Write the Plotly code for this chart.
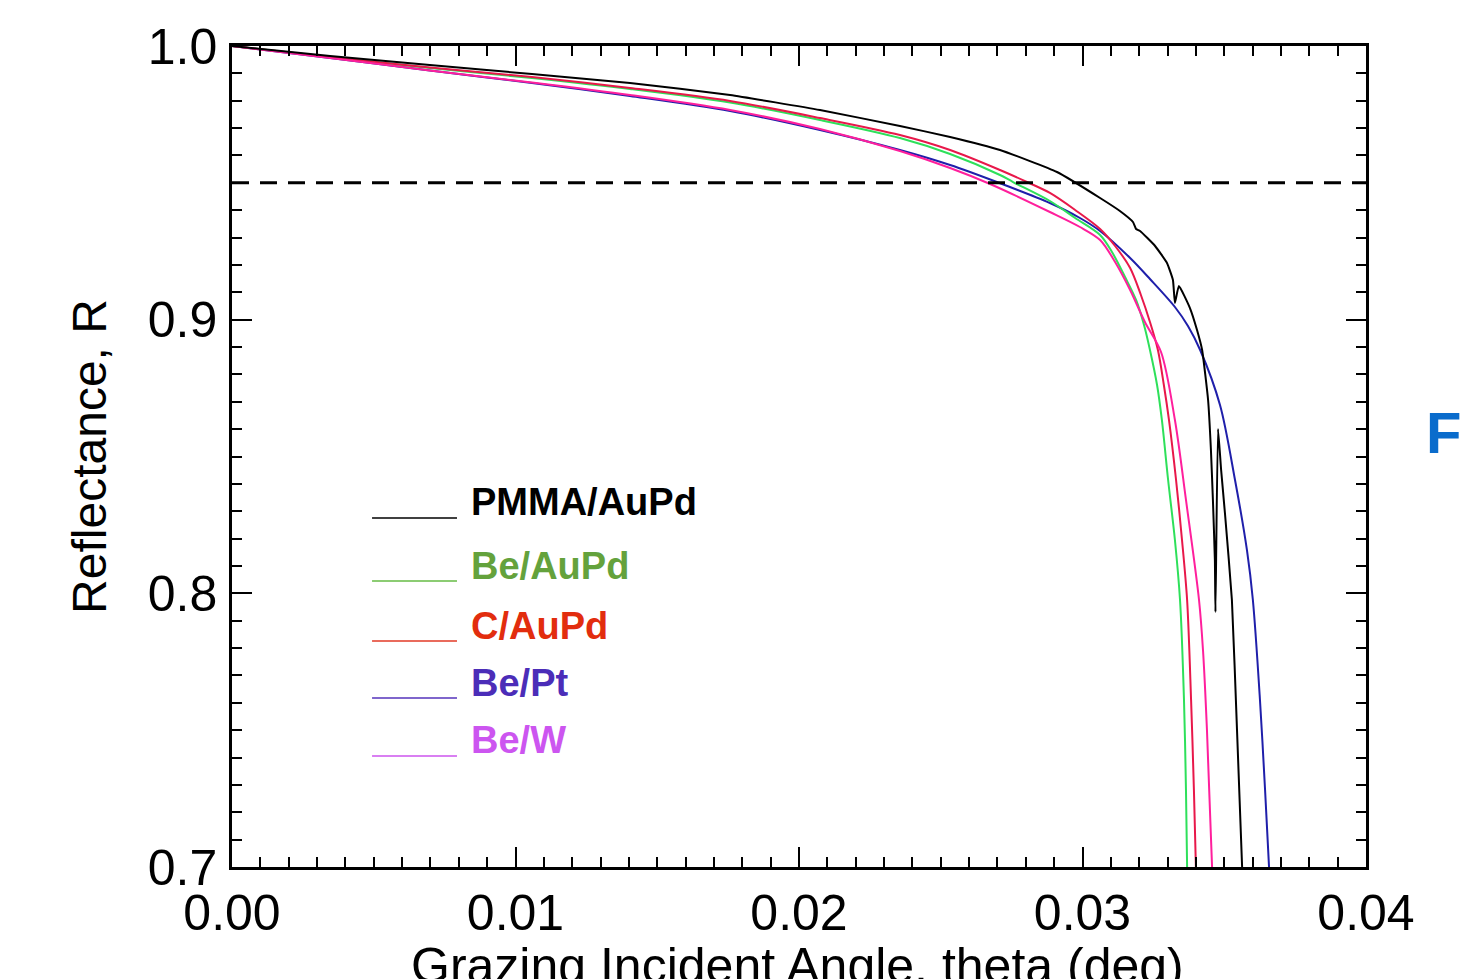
import numpy as np
import plotly.graph_objects as go

# ---------------- data ----------------
pmma_x = [0.0, 0.00346, 0.00698, 0.01058, 0.01404, 0.01757, 0.02074, 0.02356, 0.02533, 0.02709,
          0.02910, 0.03062, 0.03132, 0.03178, 0.03189, 0.03203, 0.03256, 0.03298, 0.03319, 0.03326,
          0.03340, 0.03379, 0.03404, 0.03422, 0.03443, 0.03453, 0.03460, 0.03467, 0.03469, 0.03478,
          0.03489, 0.03503, 0.03527, 0.03545, 0.03563]
pmma_r = [1.0, 0.99635, 0.99306, 0.98977, 0.98648, 0.98210, 0.97661, 0.97077, 0.96675, 0.96200,
          0.95396, 0.94446, 0.93971, 0.93569, 0.93313, 0.93240, 0.92692, 0.92071, 0.91449, 0.90609,
          0.91230, 0.90426, 0.89623, 0.88892, 0.87065, 0.85238, 0.83411, 0.81219, 0.79319, 0.86005,
          0.84507, 0.82863, 0.79757, 0.75007, 0.70]

be_aupd_x = [0.0, 0.00346, 0.00698, 0.01058, 0.01404, 0.01757, 0.02074, 0.02356, 0.02533, 0.02709,
             0.02755, 0.02885, 0.02974, 0.03062, 0.03104, 0.03150, 0.03189, 0.03217, 0.03238, 0.03263,
             0.03280, 0.03302, 0.03326, 0.03344, 0.03358, 0.03365, 0.03369]
be_aupd_r = [1.0, 0.99598, 0.99196, 0.98831, 0.98429, 0.97935, 0.97296, 0.96638, 0.96054, 0.95286,
             0.95030, 0.94336, 0.93715, 0.93094, 0.92473, 0.91559, 0.90719, 0.89805, 0.88892, 0.87613,
             0.86334, 0.84141, 0.81949, 0.79757, 0.76103, 0.72814, 0.70]

c_aupd_x = [0.0, 0.00346, 0.00698, 0.01058, 0.01404, 0.01757, 0.02074, 0.02356, 0.02533, 0.02709,
            0.02804, 0.02885, 0.02974, 0.03062, 0.03115, 0.03168, 0.03206, 0.03238, 0.03266, 0.03287,
            0.03305, 0.03330, 0.03351, 0.03369, 0.03383, 0.03393, 0.03400]
c_aupd_r = [1.0, 0.99598, 0.99214, 0.98867, 0.98465, 0.97990, 0.97369, 0.96748, 0.96200, 0.95469,
            0.95030, 0.94629, 0.94007, 0.93313, 0.92692, 0.91888, 0.90901, 0.89915, 0.88892, 0.87613,
            0.86334, 0.84141, 0.81949, 0.79757, 0.76103, 0.72814, 0.70]

be_pt_x = [0.0, 0.00346, 0.00698, 0.01058, 0.01404, 0.01757, 0.02074, 0.02356, 0.02533, 0.02698,
           0.02885, 0.02991, 0.03062, 0.03168, 0.03238, 0.03326, 0.03372, 0.03415, 0.03485, 0.03538,
           0.03580, 0.03601, 0.03626, 0.03644, 0.03658]
be_pt_r = [1.0, 0.99562, 0.99105, 0.98648, 0.98173, 0.97625, 0.96931, 0.96200, 0.95652, 0.95030,
           0.94263, 0.93715, 0.93240, 0.92253, 0.91486, 0.90463, 0.89769, 0.88892, 0.86882, 0.84141,
           0.81584, 0.79757, 0.76103, 0.72814, 0.70]

be_w_x = [0.0, 0.00346, 0.00698, 0.01058, 0.01404, 0.01757, 0.02074, 0.02356, 0.02533, 0.02674,
          0.02885, 0.02991, 0.03062, 0.03115, 0.03168, 0.03220, 0.03277, 0.03326, 0.03365, 0.03411,
          0.03425, 0.03439, 0.03457]
be_w_r = [1.0, 0.99562, 0.99105, 0.98666, 0.98210, 0.97661, 0.96967, 0.96163, 0.95542, 0.94957,
          0.93934, 0.93386, 0.92911, 0.92107, 0.91084, 0.89915, 0.88819, 0.86334, 0.83411, 0.79757,
          0.77930, 0.75007, 0.70]

threshold_r = 0.95

series_names = ["PMMA/AuPd", "Be/AuPd", "C/AuPd", "Be/Pt", "Be/W"]
x_ticks = [0.00, 0.01, 0.02, 0.03, 0.04]
y_ticks = [0.7, 0.8, 0.9, 1.0]
x_title = "Grazing Incident Angle, theta (deg)"
y_title = "Reflectance, R"

# ---------------- styles ----------------
FONT = "Liberation Sans, Arial, Helvetica, sans-serif"
curve_colors = ["#000000", "#2ee05a", "#e8184a", "#1f1faa", "#ff1f9c"]
legend_line_colors = ["#000000", "#66bb44", "#e23a26", "#5533bb", "#cc55ee"]
legend_text_colors = ["#000000", "#64a23c", "#e22d0e", "#4b2db8", "#cc55f0"]
curve_smoothing = [0.4, 0.9, 0.9, 0.9, 0.9]

fig = go.Figure()

series = [(pmma_x, pmma_r), (be_aupd_x, be_aupd_r), (c_aupd_x, c_aupd_r),
          (be_pt_x, be_pt_r), (be_w_x, be_w_r)]
draw_order = [3, 1, 2, 4, 0]
for i in draw_order:
    xs, rs = series[i]
    fig.add_trace(go.Scatter(x=xs, y=rs, mode="lines", name=series_names[i],
                             line=dict(color=curve_colors[i], width=2,
                                       shape="spline", smoothing=curve_smoothing[i]),
                             showlegend=False))

# dashed threshold line
fig.add_trace(go.Scatter(x=[x_ticks[0], x_ticks[-1]], y=[threshold_r, threshold_r],
                         mode="lines", showlegend=False,
                         line=dict(color="black", width=3, dash="17px,11px")))

# custom legend (line under-left of label, like the original)
leg_line_y = [0.4251, 0.3484, 0.2753, 0.2058, 0.1352]
leg_text_y = [0.4446, 0.3666, 0.2935, 0.2241, 0.1547]
for i, name in enumerate(series_names):
    fig.add_shape(type="line", xref="paper", yref="paper",
                  x0=0.1235, x1=0.1984, y0=leg_line_y[i], y1=leg_line_y[i],
                  line=dict(color=legend_line_colors[i], width=1.6))
    fig.add_annotation(xref="paper", yref="paper", x=0.2090, y=leg_text_y[i],
                       xanchor="left", yanchor="middle", showarrow=False,
                       text="<b>%s</b>" % name,
                       font=dict(family=FONT, size=38, color=legend_text_colors[i]))

# panel letter at the right edge
fig.add_annotation(xref="paper", yref="paper", x=1.0511, y=0.5298,
                   xanchor="left", yanchor="middle", showarrow=False,
                   text="<b>F</b>", font=dict(family=FONT, size=58, color="#0a6ccc"))

# x-axis title (placed low, partly cut by the bottom edge as in the original)
fig.add_annotation(xref="paper", yref="paper", x=0.4991, y=-0.1210,
                   xanchor="center", yanchor="middle", showarrow=False,
                   text=x_title, font=dict(family=FONT, size=50, color="black"))

axis_common = dict(showline=True, linecolor="black", linewidth=2.5, mirror="ticks",
                   ticks="inside", tickcolor="black", tickwidth=2, ticklen=20,
                   showgrid=False, zeroline=False,
                   tickfont=dict(family=FONT, size=50, color="black"))

fig.update_xaxes(range=[x_ticks[0], x_ticks[-1]], tickvals=x_ticks,
                 ticktext=["%.2f" % v for v in x_ticks],
                 minor=dict(dtick=0.001, tick0=0, ticks="inside", ticklen=10,
                            tickwidth=2, tickcolor="black", showgrid=False),
                 ticklabelstandoff=0,
                 **axis_common)
fig.update_yaxes(range=[y_ticks[0], y_ticks[-1]], tickvals=y_ticks,
                 ticktext=["%.1f" % v for v in y_ticks],
                 minor=dict(dtick=0.01, tick0=0.7, ticks="inside", ticklen=10,
                            tickwidth=2, tickcolor="black", showgrid=False),
                 title=dict(text=y_title,
                            font=dict(family=FONT, size=48, color="black"), standoff=26),
                 ticklabelstandoff=2,
                 **axis_common)

fig.update_layout(width=1461, height=979,
                  margin=dict(l=232, r=95, t=46, b=112, autoexpand=False),
                  paper_bgcolor="white", plot_bgcolor="white",
                  showlegend=False)
fig.update_xaxes(automargin=False)
fig.update_yaxes(automargin=False)

fig.write_html("out.html", config={"displayModeBar": False},
               post_script="document.body.style.margin='0';document.body.style.overflow='hidden';")
